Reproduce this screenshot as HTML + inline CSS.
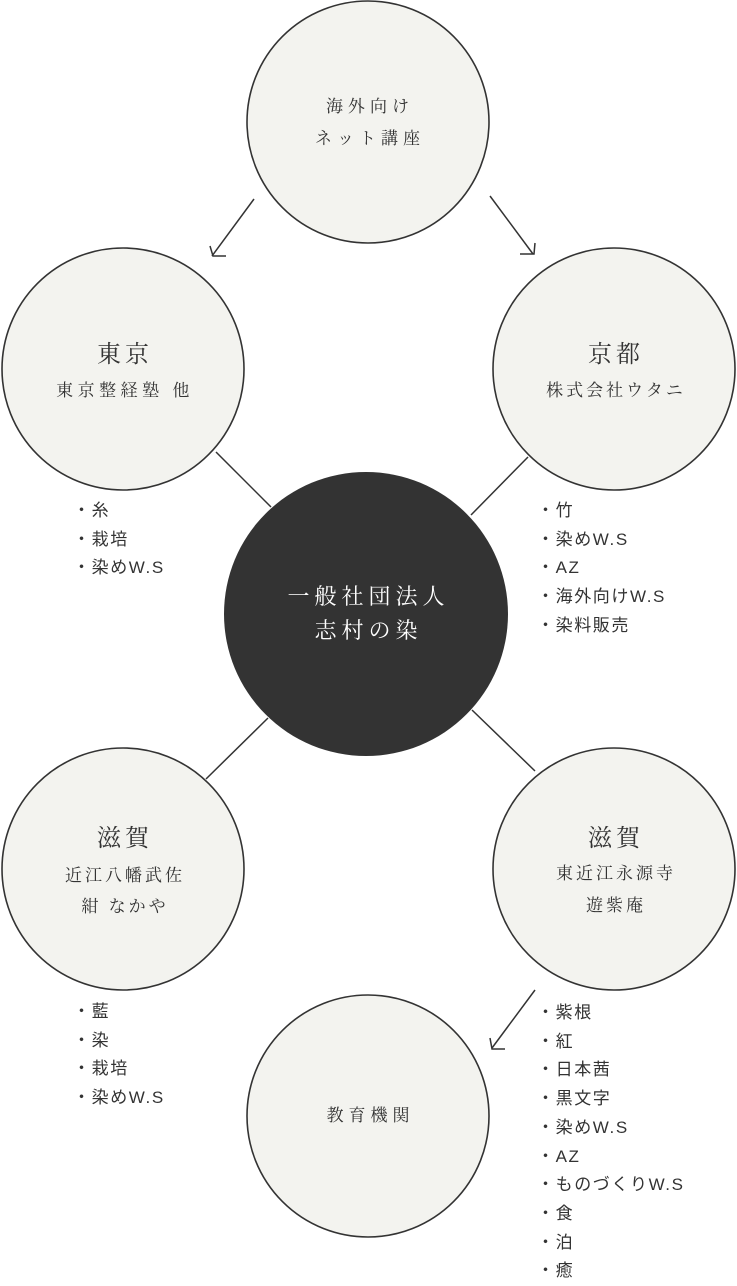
<!DOCTYPE html>
<html><head><meta charset="utf-8"><style>
body{margin:0;width:737px;height:1280px;background:#fff;overflow:hidden;position:relative}
svg{position:absolute;left:0;top:0}
.t{position:absolute;text-align:center;font-family:"Liberation Serif","Noto Serif CJK JP",serif;color:#333;white-space:nowrap;letter-spacing:4px}
.l{position:absolute;font-family:"Liberation Sans","Noto Sans CJK JP",sans-serif;font-size:17px;color:#333;line-height:28.7px;letter-spacing:1.6px}
</style></head><body>
<svg width="737" height="1280">
<g stroke="#333" stroke-width="1.6" fill="#f3f3ef">
<circle cx="368" cy="122" r="121"/>
<circle cx="123" cy="369" r="121"/>
<circle cx="614" cy="369" r="121"/>
<circle cx="123" cy="869" r="121"/>
<circle cx="614" cy="869" r="121"/>
<circle cx="368" cy="1116" r="121"/>
</g>
<circle cx="366" cy="614" r="142" fill="#333"/>
<g stroke="#333" stroke-width="1.5" fill="none">
<line x1="216" y1="452" x2="271" y2="507"/>
<line x1="528" y1="457" x2="471" y2="515"/>
<line x1="268" y1="718" x2="206" y2="779"/>
<line x1="472" y1="710" x2="535" y2="771"/>
<line x1="254" y1="199" x2="212" y2="256"/>
<polyline points="210,246 213,256 226,256"/>
<line x1="490" y1="196" x2="533" y2="254"/>
<polyline points="520,254 534,254 535,243"/>
<line x1="535" y1="990" x2="492" y2="1048"/>
<polyline points="490,1038 492,1049 505,1049"/>
</g>
</svg>
<div class="t" style="left:268px;width:204px;top:91px;font-size:17px;line-height:32px;letter-spacing:5px">海外向け<br>ネット講座</div>
<div class="t" style="left:23px;width:204px;top:334px;font-size:24px">東京</div>
<div class="t" style="left:23px;width:204px;top:376px;font-size:17px;letter-spacing:4.5px">東京整経塾 他</div>
<div class="t" style="left:514px;width:204px;top:334px;font-size:24px">京都</div>
<div class="t" style="left:514px;width:204px;top:376px;font-size:17px;letter-spacing:3px">株式会社ウタニ</div>
<div class="t" style="left:266px;width:205px;top:580px;font-size:22px;line-height:34px;color:#fff;letter-spacing:5px">一般社団法人<br>志村の染</div>
<div class="t" style="left:23px;width:204px;top:818px;font-size:24px">滋賀</div>
<div class="t" style="left:23px;width:204px;top:860px;font-size:17px;line-height:31px;letter-spacing:3px">近江八幡武佐<br>紺 なかや</div>
<div class="t" style="left:514px;width:204px;top:818px;font-size:24px">滋賀</div>
<div class="t" style="left:514px;width:204px;top:858px;font-size:17px;line-height:32px;letter-spacing:3px">東近江永源寺<br>遊紫庵</div>
<div class="t" style="left:268px;width:205px;top:1101px;font-size:17px;letter-spacing:5px">教育機関</div>
<div class="l" style="left:73px;top:497px">・糸<br>・栽培<br>・染めW.S</div>
<div class="l" style="left:537px;top:497px">・竹<br>・染めW.S<br>・AZ<br>・海外向けW.S<br>・染料販売</div>
<div class="l" style="left:73px;top:998px">・藍<br>・染<br>・栽培<br>・染めW.S</div>
<div class="l" style="left:537px;top:999px">・紫根<br>・紅<br>・日本茜<br>・黒文字<br>・染めW.S<br>・AZ<br>・ものづくりW.S<br>・食<br>・泊<br>・癒</div>
</body></html>
